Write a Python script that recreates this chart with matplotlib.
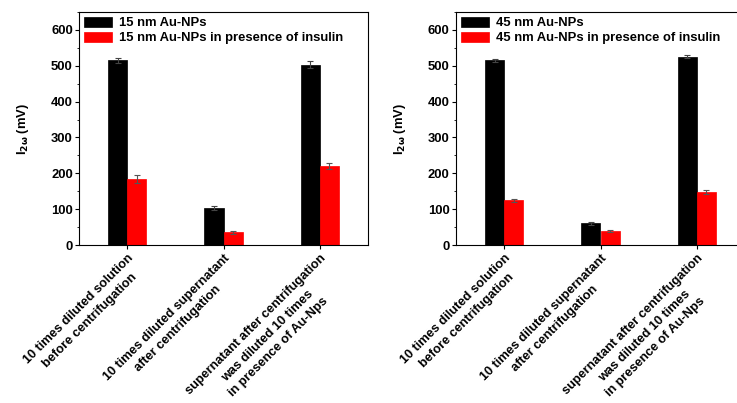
import matplotlib
matplotlib.use("Agg")
import matplotlib.pyplot as plt
from matplotlib.ticker import MultipleLocator
from matplotlib.transforms import ScaledTranslation
import numpy as np

categories = ["10 times diluted solution\nbefore centrifugation",
              "10 times diluted supernatant\nafter centrifugation",
              "supernatant after centrifugation\nwas diluted 10 times\nin presence of Au-Nps"]

np15 = [515, 103, 503]
np15_err = [7, 6, 9]
np15_ins = [185, 35, 220]
np15_ins_err = [11, 5, 8]

np45 = [515, 60, 525]
np45_err = [4, 4, 4]
np45_ins = [125, 38, 148]
np45_ins_err = [4, 3, 5]

labels_15 = ["15 nm Au-NPs", "15 nm Au-NPs in presence of insulin"]
labels_45 = ["45 nm Au-NPs", "45 nm Au-NPs in presence of insulin"]

plt.rcParams['font.family'] = ['Liberation Sans', 'DejaVu Sans']
plt.rcParams['font.weight'] = 'bold'
plt.rcParams['mathtext.default'] = 'bf'

fig = plt.figure(figsize=(7.37, 4.03), dpi=100)
W, H = 737, 403

def make_ax(left_px, right_px):
    return fig.add_axes([left_px / W, (H - 245) / H, (right_px - left_px) / W, (245 - 12) / H])

axes = [make_ax(79, 368), make_ax(456, 745)]
data = [(np15, np15_err, np15_ins, np15_ins_err, labels_15),
        (np45, np45_err, np45_ins, np45_ins_err, labels_45)]

x = np.arange(1, len(categories) + 1)
w = 0.2
fs = 9.4
xfs = 9.2
shift = ScaledTranslation(5 / 100, -1 / 100, fig.dpi_scale_trans)
for ax, (a, ae, b, be, labs) in zip(axes, data):
    ax.bar(x - w / 2, a, w, color='black', edgecolor='black', linewidth=0.5,
           yerr=ae, error_kw=dict(ecolor='#444444', elinewidth=0.8, capsize=2, capthick=0.8),
           label=labs[0], zorder=2)
    ax.bar(x + w / 2, b, w, color='#ff0000', edgecolor='#ff0000', linewidth=0.5,
           yerr=be, error_kw=dict(ecolor='#555555', elinewidth=0.8, capsize=2, capthick=0.8),
           label=labs[1], zorder=2)
    ax.set_xlim(0.5, 3.5)
    ax.set_ylim(0, 650)
    ax.yaxis.set_major_locator(MultipleLocator(100))
    ax.yaxis.set_minor_locator(MultipleLocator(50))
    ax.set_xticks(x)
    ax.set_xticklabels(categories, rotation=45, ha='right', va='top', rotation_mode='anchor',
                       multialignment='center', fontsize=xfs, fontweight='bold', linespacing=1.45)
    for lab in ax.get_xticklabels():
        lab.set_transform(lab.get_transform() + shift)
    ax.tick_params(axis='y', which='major', direction='out', length=3, width=0.8, labelsize=fs, pad=1.5)
    ax.tick_params(axis='y', which='minor', direction='out', length=1.8, width=0.6)
    ax.tick_params(axis='x', which='major', direction='out', length=3, width=0.8, pad=2)
    for lab in ax.get_yticklabels():
        lab.set_fontweight('bold')
    for s in ax.spines.values():
        s.set_linewidth(0.8)
    ax.set_ylabel(r"I$_{2\omega}$ (mV)", fontsize=fs, fontweight='bold', labelpad=14)
    ax.legend(loc='upper left', frameon=False, fontsize=fs, handlelength=2.2,
              handleheight=0.8, handletextpad=0.55, labelspacing=0.2,
              borderaxespad=0.2, borderpad=0.15,
              prop=dict(weight='bold', size=fs))

fig.savefig("out.png", dpi=100, facecolor='white')
